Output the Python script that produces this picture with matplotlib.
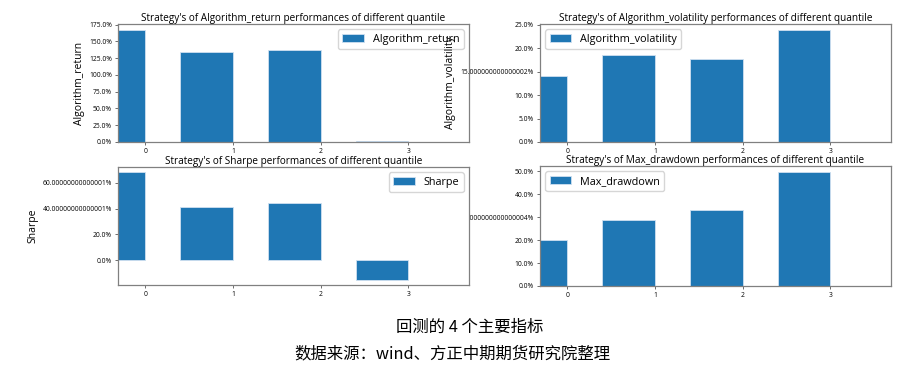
import matplotlib
matplotlib.use("Agg")
import matplotlib.pyplot as plt
from matplotlib.ticker import FuncFormatter, MultipleLocator

quantiles = [0, 1, 2, 3]
algorithm_return = [1.676, 1.345, 1.375, 0.015]
algorithm_volatility = [0.1405, 0.185, 0.1765, 0.240]
sharpe = [0.68, 0.41, 0.44, -0.15]
max_drawdown = [0.20, 0.288, 0.329, 0.497]

plt.rcParams['font.family'] = ['Open Sans', 'DejaVu Sans']

fig = plt.figure(figsize=(9.21, 3.71), dpi=100)

W, H = 921, 371
def box(l, t, r, b):
    return [l / W, 1 - b / H, (r - l) / W, (b - t) / H]

panels = [
    ("Algorithm_return", algorithm_return, box(118, 24, 469, 142), "upper right", 1),
    ("Algorithm_volatility", algorithm_volatility, box(540, 24, 891, 142), "upper left", 2),
    ("Sharpe", sharpe, box(118, 167, 469, 285), "upper right", 4),
    ("Max_drawdown", max_drawdown, box(540, 166, 891, 286), "upper left", 3),
]

pct = FuncFormatter(lambda v, pos: "{}%".format(v * 100))

for name, vals, rect, loc, z in panels:
    ax = fig.add_axes(rect)
    ax.set_zorder(z)
    ax.bar(quantiles, vals, width=-0.6, align="edge", color="#1f77b4",
           edgecolor="#cfe0f0", linewidth=0.6, label=name)
    ax.set_xlim(-0.31, 3.69)
    ax.set_xticks(quantiles)
    if name == "Algorithm_return":
        ax.yaxis.set_major_locator(MultipleLocator(0.25))
    ax.yaxis.set_major_formatter(pct)
    ax.tick_params(labelsize=4.9, length=2.5, width=0.6, color="#555555", pad=2)
    for s in ax.spines.values():
        s.set_color("#808080")
        s.set_linewidth(0.9)
    ax.set_title("Strategy's of {} performances of different quantile".format(name),
                 fontsize=7.2, pad=2)
    ax.set_ylabel(name, fontsize=7.5, labelpad=3)
    ax.legend(loc=loc, fontsize=7.8, handlelength=2, borderpad=0.4)

cjk = ['Noto Sans CJK SC', 'DejaVu Sans']
fig.text(470 / W, 1 - 327 / H, "回测的 4 个主要指标", ha="center", va="center",
         fontsize=11.8, family=cjk)
fig.text(452 / W, 1 - 354 / H, "数据来源：wind、方正中期期货研究院整理", ha="center",
         va="center", fontsize=11.8, family=cjk)

fig.savefig("out.png", dpi=100)
